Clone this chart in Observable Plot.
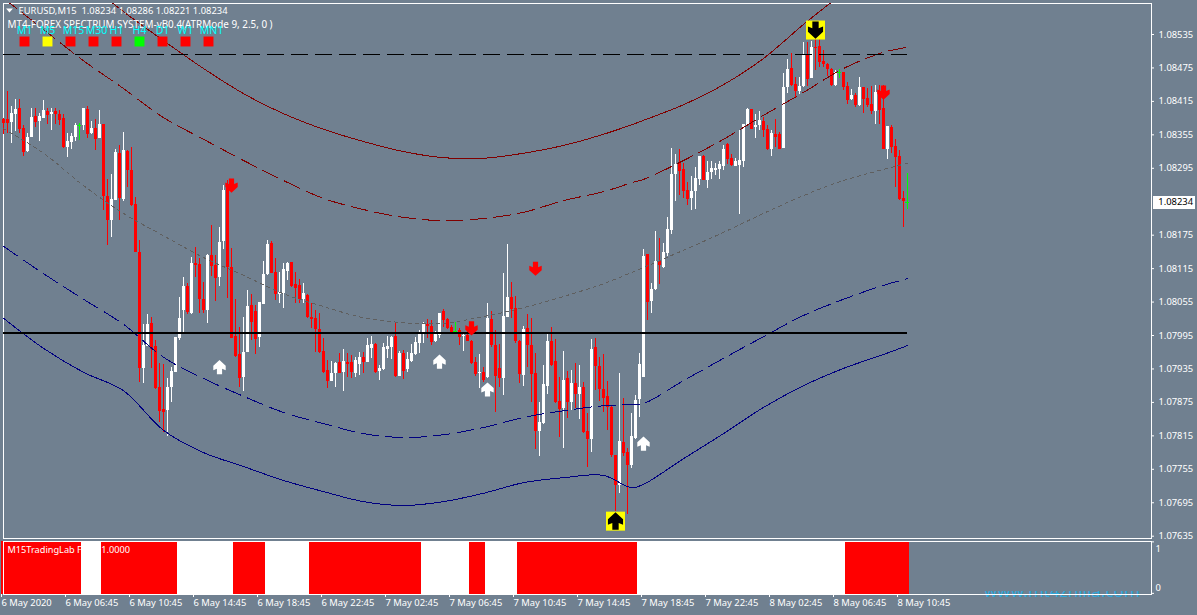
<!DOCTYPE html>
<html>
<head>
<meta charset="utf-8">
<script src="https://cdn.jsdelivr.net/npm/d3@7"></script>
<script src="https://cdn.jsdelivr.net/npm/@observablehq/plot@0.6"></script>
<style>
html,body{margin:0;padding:0;background:#708090;width:1197px;height:615px;overflow:hidden}
#chart{position:relative;width:1197px;height:615px;font-family:"Noto Sans",sans-serif}
#chart svg{position:absolute;left:0;background:transparent}
#mark{position:absolute;left:984px;top:591px;width:160px;height:6px;overflow:hidden;color:#2ea8dc;font-size:17px;line-height:6px;white-space:nowrap}
#mark span{position:relative;top:-3px}
</style>
</head>
<body>
<div id="chart"><div id="mark"><span>www.mt4zhijia.com</span></div></div>
<script>
// All prices below are in points: 8234 means 1.08234.
const highs = [
8384,8433,8406,8418,8418,8372,8357,8402,8402,8393,
8417,8402,8402,8402,8399,8391,8357,8357,8375,8375,
8402,8406,8379,8382,8399,8374,8275,8284,8329,8336,
8359,8327,8332,8243,8165,8015,8033,8027,7986,7945,
7943,7918,7938,7991,8063,8099,8088,8135,8153,8133,
8090,8140,8192,8139,8189,8264,8273,8151,8060,8009,
8027,8076,8069,8049,8054,8128,8165,8164,8133,8108,
8124,8126,8126,8108,8095,8088,8069,8052,8040,8034,
7990,7950,7948,7947,7963,7970,7963,7959,7956,7965,
7965,7990,7993,7981,7941,7981,7993,7993,8018,7966,
7968,7965,7979,7991,8004,8018,8024,8022,8002,8034,
8042,8026,8013,8018,8008,7997,8002,7986,7956,7961,
7938,8052,8038,8004,7979,8106,8158,8090,8065,7986,
8011,8033,8026,7963,7875,7941,8000,8009,7988,7920,
7966,7930,7932,7945,7941,7911,7855,7988,7990,7956,
7961,7912,7869,7780,7927,7882,7792,7855,7887,7963,
8149,8140,8088,8182,8169,8160,8207,8330,8320,8329,
8304,8269,8280,8296,8316,8318,8307,8307,8304,8307,
8336,8339,8320,8313,8363,8374,8402,8400,8391,8397,
8386,8372,8363,8382,8359,8465,8490,8501,8458,8458,
8521,8521,8522,8528,8528,8506,8483,8474,8470,8472,
8467,8449,8436,8429,8458,8440,8438,8442,8443,8443,
8443,8370,8372,8347,8327,8253,8286];
const bodyTops = [
8383,8383,8393,8400,8402,8366,8350,8386,8388,8388,
8399,8397,8395,8397,8391,8384,8343,8352,8372,8372,
8402,8400,8366,8366,8374,8374,8244,8239,8323,8322,
8327,8325,8291,8230,8144,7977,8015,8017,7975,7902,
7862,7902,7930,7991,8026,8083,8083,8124,8124,8122,
8060,8139,8139,8121,8162,8255,8259,8117,7993,7961,
7964,8047,8049,8038,8054,8104,8158,8160,8108,8072,
8113,8124,8126,8086,8085,8070,8067,8027,8026,8006,
7966,7932,7927,7945,7947,7948,7947,7947,7950,7956,
7956,7977,7979,7979,7936,7973,7975,7991,7993,7963,
7963,7952,7963,7982,7999,8015,8015,8011,7999,8034,
8038,8024,8009,8002,8004,7995,7995,7984,7947,7929,
7929,8026,8024,7977,7936,8029,8063,8063,8043,7984,
8006,8008,7977,7927,7839,7907,7984,7984,7948,7877,
7914,7918,7909,7909,7902,7902,7823,7970,7973,7939,
7898,7886,7866,7780,7805,7803,7785,7814,7878,7943,
8137,8140,8078,8128,8128,8144,8185,8284,8302,8305,
8293,8255,8253,8277,8316,8316,8287,8295,8295,8302,
8329,8338,8313,8307,8309,8374,8400,8400,8372,8381,
8379,8365,8357,8356,8356,8440,8472,8474,8445,8442,
8497,8499,8512,8512,8513,8487,8481,8472,8467,8467,
8467,8442,8426,8426,8440,8440,8420,8409,8431,8431,
8402,8370,8368,8334,8316,8241,8234];
const bodyBottoms = [
8375,8375,8377,8391,8365,8323,8325,8350,8377,8379,
8384,8390,8391,8391,8381,8332,8332,8341,8350,8372,
8372,8356,8357,8347,8348,8244,8201,8201,8237,8241,
8239,8291,8228,8144,7936,7936,7975,7970,7900,7859,
7857,7860,7902,7929,7990,8040,8036,8034,8121,8060,
8040,8040,8119,8097,8099,8164,8117,7990,7957,7918,
7920,7964,8018,7988,7991,8051,8104,8106,8069,8069,
8070,8110,8083,8079,8060,8060,8027,8024,8006,7965,
7929,7912,7912,7927,7927,7929,7943,7929,7927,7943,
7947,7947,7972,7929,7930,7934,7970,7973,7921,7921,
7930,7934,7948,7961,7981,7997,8011,7982,7984,7995,
8022,8008,8000,8002,7991,7993,7984,7945,7925,7927,
7914,7920,7977,7921,7918,7918,8027,8042,7984,7925,
7923,7977,7925,7823,7823,7837,7904,7941,7875,7862,
7864,7875,7875,7889,7889,7821,7808,7808,7939,7898,
7882,7866,7780,7726,7726,7783,7762,7762,7810,7880,
7920,8054,8056,8078,8121,8117,8142,8183,8284,8289,
8253,8239,8241,8253,8275,8273,8273,8287,8291,8293,
8298,8311,8300,8298,8300,8307,8372,8365,8368,8372,
8363,8329,8329,8350,8329,8330,8440,8444,8433,8433,
8442,8454,8456,8510,8485,8481,8472,8444,8444,8467,
8440,8417,8418,8408,8408,8418,8408,8397,8397,8399,
8329,8329,8332,8314,8239,8235,8234];
const lows = [
8355,8357,8339,8361,8357,8316,8323,8350,8368,8343,
8384,8374,8363,8374,8372,8330,8314,8329,8343,8345,
8363,8348,8356,8327,8348,8219,8156,8171,8237,8201,
8235,8261,8226,8144,7911,7909,7975,7936,7898,7839,
7821,7814,7875,7929,7986,8000,8033,8033,8099,8034,
8034,8017,8101,8056,8083,8149,8061,7990,7956,7902,
7895,7964,7986,7961,7973,8051,8103,8106,8058,8052,
8043,8094,8081,8052,8052,8052,8026,8008,7965,7963,
7927,7900,7912,7902,7927,7895,7920,7918,7920,7923,
7927,7947,7954,7927,7914,7932,7954,7952,7920,7921,
7916,7929,7947,7959,7963,7981,7990,7977,7982,7990,
8009,8006,7997,7999,7977,7966,7984,7943,7921,7900,
7911,7918,7973,7857,7902,7887,8027,8026,7981,7909,
7904,7938,7875,7790,7778,7835,7889,7939,7873,7812,
7792,7846,7860,7864,7844,7819,7758,7785,7896,7877,
7857,7825,7776,7679,7712,7778,7674,7756,7808,7848,
7920,8022,8034,8076,8086,8115,8137,8176,8235,8246,
8241,8228,8219,8221,8264,8273,8259,8275,8282,8275,
8291,8302,8298,8298,8212,8296,8370,8365,8348,8363,
8350,8327,8316,8332,8329,8330,8429,8442,8420,8427,
8440,8442,8456,8470,8476,8476,8460,8442,8442,8456,
8435,8409,8417,8404,8406,8393,8404,8391,8374,8374,
8329,8311,8322,8260,8237,8189,8221];
// w = up bar, r = down bar, g = open equals close
const directions =
"rrwwrrwwrw"+"wrwrrrwwwg"+"wrwrwrrwwr"+"wrrrrwwrrr"+"rwwwwwrwrr"+"rwrrwwrrrr"+
"wwrrwwwrrw"+"wwrrrwrrrr"+"rrwwrwrrww"+"rwwrwwwwrw"+"rwwwwwrrww"+"rrrgrwrrrw"+
"rwrrrwwrrr"+"wrrrwwwrrr"+"wrwrwrrwrr"+"rrrrwrrwww"+"wrwwrwwwwr"+"rrwwwrwwww"+
"wrrwwwwrww"+"rrwrrwwrrw"+"wrwrrrrrwg"+"rrwrwrrrwr"+"rwrrrrg";

// Band lines, read every ten bars plus the turning bar 157
const lineBars = [0,10,20,30,40,50,60,70,80,90,100,110,120,130,140,150,157,160,170,180,190,200,210,220,226];
const outerUpper = [null,null,8634,8576,8524,8474,8429,8393,8365,8343,8325,8314,8313,8322,8336,8356,8373,8381,8409,8445,8492,8553,8610,null,null];
const innerUpper = [8600,8544,8488,8438,8386,8347,8309,8273,8241,8221,8207,8201,8205,8216,8237,8253,8269,8275,8309,8347,8390,8431,8474,8503,8512];
const middle = [8366,8322,8264,8214,8174,8135,8103,8070,8047,8027,8018,8017,8029,8045,8065,8088,8108,8117,8148,8180,8214,8246,8273,8293,8304];
const innerLower = [8155,8106,8060,8015,7956,7918,7886,7857,7837,7819,7812,7817,7830,7848,7860,7869,7871,7873,7914,7954,7993,8031,8060,8085,8097];
const outerLower = [8026,7972,7929,7896,7825,7785,7760,7735,7715,7697,7690,7697,7712,7731,7740,7744,7722,7728,7774,7819,7866,7905,7936,7961,7977];

const levelSolid = 8000, levelDashed = 8500;

// Signal arrows
const sellBars = [57,117,133,220], sellPrices = [8264,8008,8115,8431];
const buyBars = [54,109,121,160], buyPrices = [7938,7948,7898,7801];
const bigSellBars = [203], bigSellPrices = [8543];
const bigBuyBars = [153], bigBuyPrices = [7662];

// Filter panel: first bar of each state, alternating red / white
const filterStarts = [0,20,25,44,58,66,77,105,117,121,129,159,211];
const filterEnd = 227;

const priceTicks = [8535,8475,8415,8355,8295,8175,8115,8055,7995,7935,7875,7815,7755,7695,7635];
const lastPrice = 8234;
const timeLabels = ["6 May 2020","6 May 06:45","6 May 10:45","6 May 14:45","6 May 18:45","6 May 22:45","7 May 02:45","7 May 06:45","7 May 10:45","7 May 14:45","7 May 18:45","7 May 22:45","8 May 02:45","8 May 06:45","8 May 10:45"];
const timeframes = ["M1","M5","M15","M30","H1","H4","D1","W1","MN1"];
const timeframeColors = ["#ff0000","#ffff00","#ff0000","#ff0000","#ff0000","#00ff00","#ff0000","#ff0000","#ff0000"];
const titleText = "EURUSD,M15  1.08234 1.08286 1.08221 1.08234";
const subtitleText = "MT4-FOREX SPECTRUM SYSTEM-vB0.4(ATRMode 9, 2.5, 0 )";
const filterText = "M15TradingLab Filter 1.0000";

const base = Date.UTC(2020,4,6,2,45);
const t = i => new Date(base + i*15*60*1000);
const px = v => 1 + v/100000;
const col = {w:"#ffffff", r:"#ff0000", g:"#00ff00"};
const candles = highs.map((h,i)=>({t:t(i),i,h:px(h),top:px(bodyTops[i]),bot:px(bodyBottoms[i]),l:px(lows[i]),c:col[directions[i]],d:directions[i]}));
const bodies = candles.filter(d=>d.d!=="g");
const dojis = candles.filter(d=>d.d==="g");
const series = a => lineBars.map((b,k)=>({t:t(b),v:a[k]==null?null:px(a[k])}));
const pts = (bars,prices)=>bars.map((b,k)=>({t:t(b),v:px(prices[k])}));

const arrowPath = (c,s,dir)=>{
  const p=[[-2.6,-7],[2.6,-7],[2.6,-1.5],[6.2,-3],[6.2,1.5],[0,7.2],[-6.2,1.5],[-6.2,-3],[-2.6,-1.5]];
  p.forEach(([x,y],k)=>{const X=x*s,Y=y*s*dir; k?c.lineTo(X,Y):c.moveTo(X,Y);});
  c.closePath();
};
const downArrow = {draw(c){arrowPath(c,1,1)}};
const upArrow = {draw(c){arrowPath(c,1,-1)}};
const bigDown = {draw(c){arrowPath(c,1.22,1)}};
const bigUp = {draw(c){arrowPath(c,1.22,-1)}};
const yellowBox = {draw(c){c.moveTo(-9.5,-9.5);c.lineTo(9.5,-9.5);c.lineTo(9.5,9.5);c.lineTo(-9.5,9.5);c.closePath();}};
const menuMark = {draw(c){c.moveTo(-3.4,-2);c.lineTo(3.4,-2);c.lineTo(0,2);c.closePath();}};

const xScale = {type:"utc",domain:[t(0),t(287)],range:[3,1151]};
const common = {width:1197,marginLeft:3,marginRight:46,style:{background:"transparent",fontFamily:"'Noto Sans',sans-serif",fontSize:"9.4px",color:"#fff"},x:xScale};
const crisp = {shapeRendering:"crispEdges"};
const clipLine = {x:"t",y:"v",clip:true,curve:"catmull-rom",strokeWidth:1,shapeRendering:"crispEdges"};

const main = Plot.plot({
  ...common, height:540, marginTop:3, marginBottom:2,
  y:{domain:[px(7635),px(8535)],range:[535.7,34]},
  marks:[
    Plot.frame({stroke:"#fff"}),
    Plot.axisX({ticks:[],tickSize:0,label:null}),
    Plot.axisY({anchor:"right",ticks:priceTicks.map(px),tickSize:2,tickPadding:5,tickFormat:d=>d.toFixed(5),label:null,stroke:"#fff",fill:"#fff",fontSize:9.4}),
    Plot.ruleX(candles,{x:"t",y1:"l",y2:"h",stroke:"c",strokeWidth:1,...crisp}),
    Plot.ruleX(bodies,{x:"t",y1:"bot",y2:"top",stroke:"c",strokeWidth:3,...crisp}),
    Plot.ruleY(dojis,{y:"top",x1:d=>t(d.i-0.4),x2:d=>t(d.i+0.4),stroke:"c",strokeWidth:1,...crisp}),
    Plot.line(series(middle),{...clipLine,stroke:"#5f5f5f",strokeDasharray:"3,4"}),
    Plot.line(series(outerUpper),{...clipLine,stroke:"#800000"}),
    Plot.line(series(innerUpper),{...clipLine,stroke:"#800000",strokeDasharray:"17,7"}),
    Plot.line(series(innerLower),{...clipLine,stroke:"#000080",strokeDasharray:"17,7"}),
    Plot.line(series(outerLower),{...clipLine,stroke:"#000080"}),
    Plot.ruleY([px(levelSolid)],{x1:t(0),x2:t(226),stroke:"#000",strokeWidth:2,...crisp}),
    Plot.ruleY([px(levelDashed)],{x1:t(0),x2:t(226),stroke:"#000",strokeWidth:1,strokeDasharray:"17,7",...crisp}),
    Plot.dot(pts(sellBars,sellPrices),{x:"t",y:"v",symbol:downArrow,fill:"#ff0000",stroke:"none"}),
    Plot.dot(pts(buyBars,buyPrices),{x:"t",y:"v",symbol:upArrow,fill:"#ffffff",stroke:"none"}),
    Plot.dot(pts(bigSellBars,bigSellPrices),{x:"t",y:"v",symbol:yellowBox,fill:"#ffff00",stroke:"none"}),
    Plot.dot(pts(bigSellBars,bigSellPrices),{x:"t",y:"v",symbol:bigDown,fill:"#000",stroke:"none"}),
    Plot.dot(pts(bigBuyBars,bigBuyPrices),{x:"t",y:"v",symbol:yellowBox,fill:"#ffff00",stroke:"none"}),
    Plot.dot(pts(bigBuyBars,bigBuyPrices),{x:"t",y:"v",symbol:bigUp,fill:"#000",stroke:"none"}),
    Plot.ruleY([px(lastPrice)],{x1:t(287.5),x2:t(298),stroke:"#fff",strokeWidth:13,...crisp}),
    Plot.text([lastPrice],{text:d=>px(d).toFixed(5),y:d=>px(d),x:t(288.7),textAnchor:"start",fill:"#000",fontSize:9.4}),
    Plot.text([titleText],{text:d=>d,frameAnchor:"top-left",dx:15,dy:7,textAnchor:"start",lineAnchor:"middle",fill:"#fff",fontSize:9.4,style:"white-space:pre"}),
    Plot.dot(["menu"],{frameAnchor:"top-left",dx:6,dy:7,symbol:menuMark,fill:"#fff",stroke:"none"}),
    Plot.text([subtitleText],{text:d=>d,frameAnchor:"top-left",dx:4,dy:21,textAnchor:"start",lineAnchor:"middle",fill:"#fff",fontSize:9.9}),
    ...timeframes.map((name,k)=>Plot.text([name],{text:d=>d,frameAnchor:"top-left",dx:21+23*k+(name.length>2?3:0),dy:27,textAnchor:"middle",lineAnchor:"middle",fill:"#00ffff",fontSize:10.5})),
    ...timeframes.map((name,k)=>Plot.dot([name],{frameAnchor:"top-left",dx:21+23*k,dy:38,symbol:"square",r:5.6,fill:timeframeColors[k],stroke:"none"}))
  ]
});
main.style.top = "0px";

const filterRows = filterStarts.map((s,k)=>({a:t(s-0.5),b:t((k+1<filterStarts.length?filterStarts[k+1]:filterEnd)-0.5),c:k%2?"#ffffff":"#ff0000"}));
const filter = Plot.plot({
  ...common, height:75, marginTop:1, marginBottom:21,
  y:{domain:[0,1],range:[47,8]},
  marks:[
    Plot.rect(filterRows,{x1:"a",x2:"b",fill:"c",...crisp}),
    Plot.frame({stroke:"#fff"}),
    Plot.text([filterText],{text:d=>d,frameAnchor:"top-left",dx:4,dy:9,textAnchor:"start",lineAnchor:"middle",fill:"#ffffff",fontSize:9.2}),
    Plot.axisY({anchor:"right",ticks:[0,1],tickSize:0,tickPadding:4,tickFormat:d=>String(d),label:null,fill:"#fff",fontSize:9.4}),
    Plot.axisY({anchor:"right",ticks:[-0.15,1.17],tickSize:2,tickFormat:()=>"",label:null,stroke:"#fff"}),
    Plot.axisX({anchor:"bottom",ticks:timeLabels.map((_,k)=>t(16*k)),tickSize:3,tickPadding:2,tickFormat:(d,k)=>timeLabels[k],textAnchor:"start",dx:-2,label:null,stroke:"#fff",fill:"#fff",fontSize:9.4})
  ]
});
filter.style.top = "540px";

const host = document.getElementById("chart");
host.appendChild(main);
host.appendChild(filter);
</script>
</body>
</html>
